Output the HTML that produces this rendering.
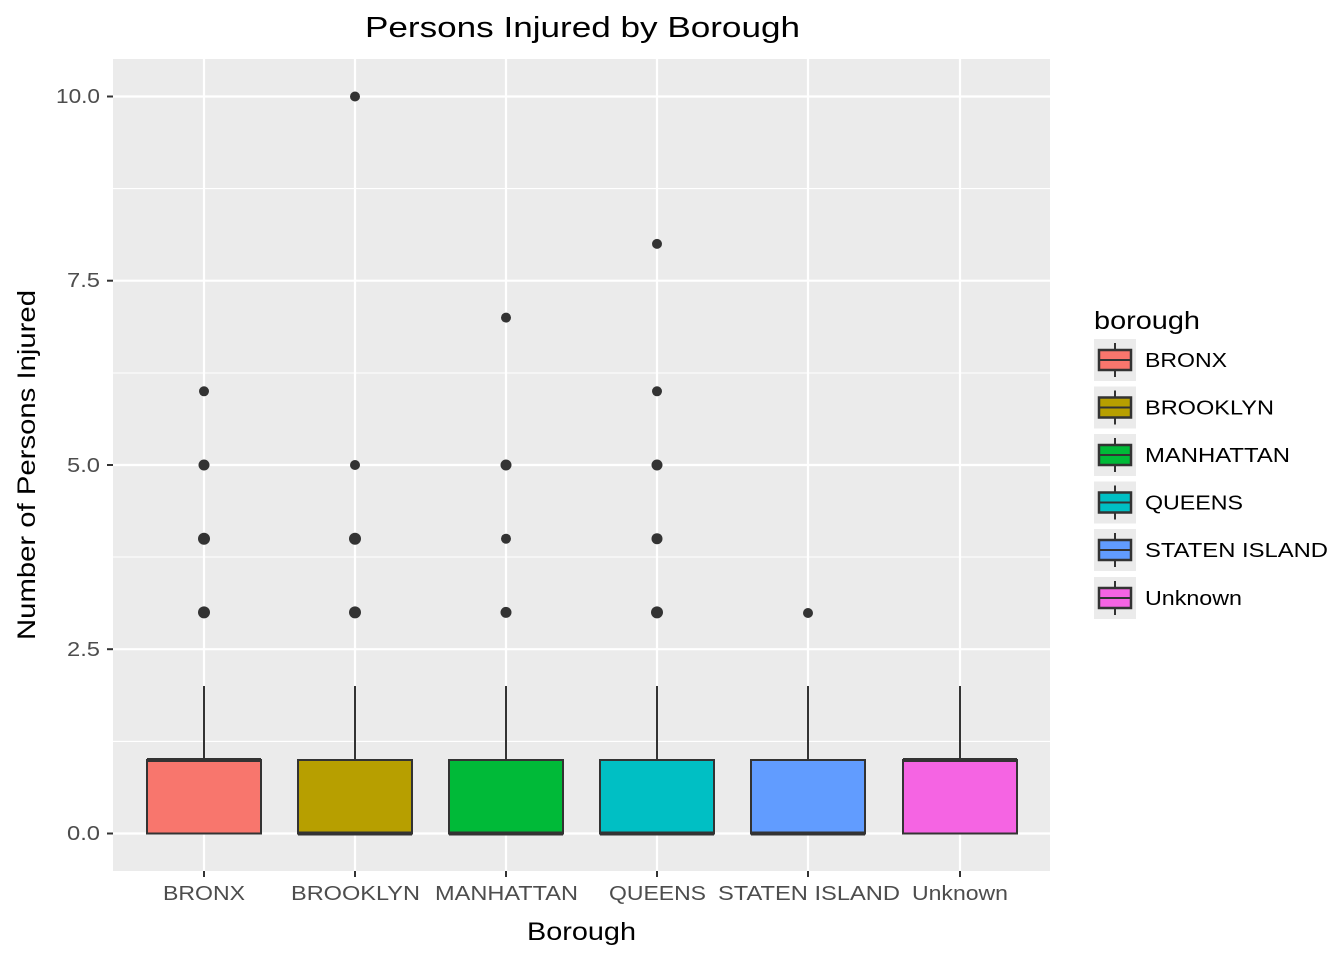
<!DOCTYPE html>
<html><head><style>body{margin:0;background:#fff}svg{display:block}text{font-family:"Liberation Sans",Arial,sans-serif}</style></head>
<body>
<svg width="1344" height="960" xmlns="http://www.w3.org/2000/svg">
<rect x="113" y="59" width="937" height="812" fill="#ebebeb"/>
<g stroke="#fff" stroke-width="1.1">
<line x1="113" x2="1050" y1="741.4" y2="741.4"/><line x1="113" x2="1050" y1="557" y2="557"/>
<line x1="113" x2="1050" y1="373" y2="373"/><line x1="113" x2="1050" y1="188.6" y2="188.6"/>
</g>
<g stroke="#fff" stroke-width="2.2">
<line x1="113" x2="1050" y1="833.5" y2="833.5"/><line x1="113" x2="1050" y1="649.2" y2="649.2"/>
<line x1="113" x2="1050" y1="465" y2="465"/><line x1="113" x2="1050" y1="280.7" y2="280.7"/>
<line x1="113" x2="1050" y1="96.5" y2="96.5"/>
<line y1="59" y2="871" x1="204" x2="204"/><line y1="59" y2="871" x1="355" x2="355"/>
<line y1="59" y2="871" x1="506" x2="506"/><line y1="59" y2="871" x1="657" x2="657"/>
<line y1="59" y2="871" x1="808" x2="808"/><line y1="59" y2="871" x1="960" x2="960"/>
</g>
<g stroke="#333" stroke-width="2">
<line x1="204" x2="204" y1="686" y2="760"/><line x1="355" x2="355" y1="686" y2="760"/>
<line x1="506" x2="506" y1="686" y2="760"/><line x1="657" x2="657" y1="686" y2="760"/>
<line x1="808" x2="808" y1="686" y2="760"/><line x1="960" x2="960" y1="686" y2="760"/>
</g>
<g stroke="#333" stroke-width="2">
<rect x="147" y="760" width="114" height="73.5" fill="#F8766D"/>
<rect x="298" y="760" width="114" height="73.5" fill="#B79F00"/>
<rect x="449" y="760" width="114" height="73.5" fill="#00BA38"/>
<rect x="600" y="760" width="114" height="73.5" fill="#00BFC4"/>
<rect x="751" y="760" width="114" height="73.5" fill="#619CFF"/>
<rect x="903" y="760" width="114" height="73.5" fill="#F564E3"/>
</g>
<g stroke="#333" stroke-width="4">
<line x1="147" x2="261" y1="760" y2="760"/><line x1="298" x2="412" y1="833.5" y2="833.5"/>
<line x1="449" x2="563" y1="833.5" y2="833.5"/><line x1="600" x2="714" y1="833.5" y2="833.5"/>
<line x1="751" x2="865" y1="833.5" y2="833.5"/><line x1="903" x2="1017" y1="760" y2="760"/>
</g>
<g fill="#333">
<circle cx="204" cy="612.4" r="6"/><circle cx="204" cy="538.7" r="6"/><circle cx="204" cy="465" r="5.5"/><circle cx="204" cy="391.3" r="5"/>
<circle cx="355" cy="612.4" r="6"/><circle cx="355" cy="538.7" r="6"/><circle cx="355" cy="465" r="5"/><circle cx="355" cy="96.5" r="5"/>
<circle cx="506" cy="612.4" r="5.5"/><circle cx="506" cy="538.7" r="5"/><circle cx="506" cy="465" r="5.5"/><circle cx="506" cy="317.6" r="5"/>
<circle cx="657" cy="612.4" r="6"/><circle cx="657" cy="538.7" r="5.5"/><circle cx="657" cy="465" r="5.5"/><circle cx="657" cy="391.3" r="5"/><circle cx="657" cy="243.9" r="5"/>
<circle cx="808" cy="613" r="5"/>
</g>
<g stroke="#333" stroke-width="2">
<line x1="107" x2="113" y1="833.5" y2="833.5"/><line x1="107" x2="113" y1="649.2" y2="649.2"/>
<line x1="107" x2="113" y1="465" y2="465"/><line x1="107" x2="113" y1="280.7" y2="280.7"/>
<line x1="107" x2="113" y1="96.5" y2="96.5"/>
<line y1="871" y2="877" x1="204" x2="204"/><line y1="871" y2="877" x1="355" x2="355"/>
<line y1="871" y2="877" x1="506" x2="506"/><line y1="871" y2="877" x1="657" x2="657"/>
<line y1="871" y2="877" x1="808" x2="808"/><line y1="871" y2="877" x1="960" x2="960"/>
</g>
<g fill="#4d4d4d" font-size="20" text-anchor="end" lengthAdjust="spacingAndGlyphs">
<text x="100" y="840" textLength="33" lengthAdjust="spacingAndGlyphs">0.0</text><text x="100" y="656" textLength="33" lengthAdjust="spacingAndGlyphs">2.5</text><text x="100" y="472" textLength="33" lengthAdjust="spacingAndGlyphs">5.0</text>
<text x="100" y="287" textLength="33" lengthAdjust="spacingAndGlyphs">7.5</text><text x="100" y="103" textLength="44" lengthAdjust="spacingAndGlyphs">10.0</text>
</g>
<g fill="#4d4d4d" font-size="20">
<text x="163" y="900" textLength="82" lengthAdjust="spacingAndGlyphs">BRONX</text><text x="291" y="900" textLength="129" lengthAdjust="spacingAndGlyphs">BROOKLYN</text><text x="435" y="900" textLength="143" lengthAdjust="spacingAndGlyphs">MANHATTAN</text>
<text x="609" y="900" textLength="97" lengthAdjust="spacingAndGlyphs">QUEENS</text><text x="718" y="900" textLength="182" lengthAdjust="spacingAndGlyphs">STATEN ISLAND</text><text x="912" y="900" textLength="96" lengthAdjust="spacingAndGlyphs">Unknown</text>
</g>
<text x="527" y="940" font-size="25" textLength="109" lengthAdjust="spacingAndGlyphs" fill="#000">Borough</text>
<text x="365" y="37" font-size="29" textLength="435" lengthAdjust="spacingAndGlyphs" fill="#000">Persons Injured by Borough</text>
<text transform="translate(35,640) rotate(-90)" font-size="25" textLength="350" lengthAdjust="spacingAndGlyphs" fill="#000">Number of Persons Injured</text>
<text x="1094" y="329" font-size="25" textLength="106" lengthAdjust="spacingAndGlyphs" fill="#000">borough</text>
<g font-size="20" fill="#000">
<g transform="translate(0,360)"><rect x="1094" y="-21" width="42" height="42" fill="#ebebeb"/><line x1="1115" x2="1115" y1="-17" y2="17" stroke="#333" stroke-width="2"/><rect x="1099" y="-10" width="32" height="20" fill="#F8766D" stroke="#333" stroke-width="2.5"/><line x1="1099" x2="1131" y1="0" y2="0" stroke="#333" stroke-width="2"/><text x="1145" y="7" textLength="82" lengthAdjust="spacingAndGlyphs">BRONX</text></g>
<g transform="translate(0,407.5)"><rect x="1094" y="-21" width="42" height="42" fill="#ebebeb"/><line x1="1115" x2="1115" y1="-17" y2="17" stroke="#333" stroke-width="2"/><rect x="1099" y="-10" width="32" height="20" fill="#B79F00" stroke="#333" stroke-width="2.5"/><line x1="1099" x2="1131" y1="0" y2="0" stroke="#333" stroke-width="2"/><text x="1145" y="7" textLength="129" lengthAdjust="spacingAndGlyphs">BROOKLYN</text></g>
<g transform="translate(0,455)"><rect x="1094" y="-21" width="42" height="42" fill="#ebebeb"/><line x1="1115" x2="1115" y1="-17" y2="17" stroke="#333" stroke-width="2"/><rect x="1099" y="-10" width="32" height="20" fill="#00BA38" stroke="#333" stroke-width="2.5"/><line x1="1099" x2="1131" y1="0" y2="0" stroke="#333" stroke-width="2"/><text x="1145" y="7" textLength="145" lengthAdjust="spacingAndGlyphs">MANHATTAN</text></g>
<g transform="translate(0,502.5)"><rect x="1094" y="-21" width="42" height="42" fill="#ebebeb"/><line x1="1115" x2="1115" y1="-17" y2="17" stroke="#333" stroke-width="2"/><rect x="1099" y="-10" width="32" height="20" fill="#00BFC4" stroke="#333" stroke-width="2.5"/><line x1="1099" x2="1131" y1="0" y2="0" stroke="#333" stroke-width="2"/><text x="1145" y="7" textLength="98" lengthAdjust="spacingAndGlyphs">QUEENS</text></g>
<g transform="translate(0,550)"><rect x="1094" y="-21" width="42" height="42" fill="#ebebeb"/><line x1="1115" x2="1115" y1="-17" y2="17" stroke="#333" stroke-width="2"/><rect x="1099" y="-10" width="32" height="20" fill="#619CFF" stroke="#333" stroke-width="2.5"/><line x1="1099" x2="1131" y1="0" y2="0" stroke="#333" stroke-width="2"/><text x="1145" y="7" textLength="183" lengthAdjust="spacingAndGlyphs">STATEN ISLAND</text></g>
<g transform="translate(0,598)"><rect x="1094" y="-21" width="42" height="42" fill="#ebebeb"/><line x1="1115" x2="1115" y1="-17" y2="17" stroke="#333" stroke-width="2"/><rect x="1099" y="-10" width="32" height="20" fill="#F564E3" stroke="#333" stroke-width="2.5"/><line x1="1099" x2="1131" y1="0" y2="0" stroke="#333" stroke-width="2"/><text x="1145" y="7" textLength="97" lengthAdjust="spacingAndGlyphs">Unknown</text></g>
</g>
</svg>
</body></html>
